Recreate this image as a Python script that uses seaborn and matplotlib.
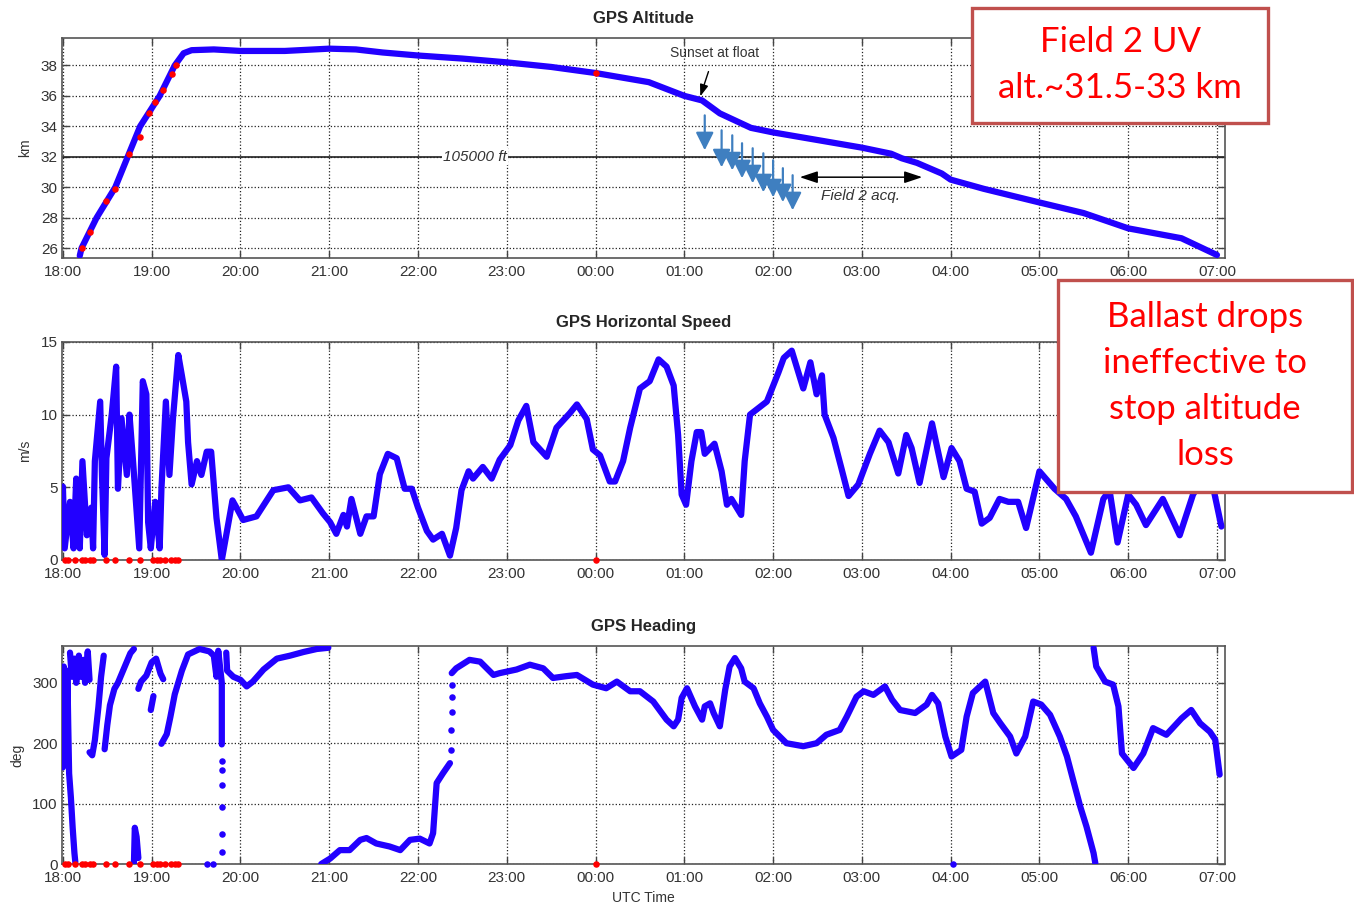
import matplotlib
matplotlib.use('Agg')
import matplotlib.pyplot as plt
from matplotlib.patches import Rectangle
import numpy as np
import pandas as pd
import seaborn as sns

# time axis: hours after 18:00 UTC
time_labels = ['18:00', '19:00', '20:00', '21:00', '22:00', '23:00', '00:00',
               '01:00', '02:00', '03:00', '04:00', '05:00', '06:00', '07:00']

# GPS altitude (hours, km)
altitude = [(0.19, 25.5), (0.21, 26.0), (0.38, 28.0), (0.59, 30.0), (0.73, 32.0),
            (0.87, 34.0), (1.09, 36.0), (1.26, 38.0), (1.36, 38.8), (1.45, 39.0),
            (1.7, 39.05), (2.0, 38.95), (2.5, 38.95), (3.0, 39.1), (3.3, 39.05),
            (3.6, 38.85), (4.0, 38.65), (4.5, 38.45), (5.0, 38.2), (5.5, 37.9),
            (6.0, 37.5), (6.6, 36.9), (7.0, 36.0), (7.2, 35.7), (7.4, 34.85),
            (7.75, 33.9), (8.0, 33.6), (8.5, 33.1), (9.0, 32.6), (9.33, 32.2),
            (9.45, 31.9), (9.62, 31.6), (9.9, 30.9), (10.0, 30.5), (10.37, 29.9),
            (11.0, 29.0), (11.5, 28.3), (12.0, 27.3), (12.6, 26.65), (13.0, 25.55)]
altitude_dropouts = [(0.21, 26.0), (0.30, 27.05), (0.48, 29.1), (0.59, 29.9), (0.75, 32.2),
                     (0.87, 33.3), (0.97, 34.85), (1.04, 35.6), (1.13, 36.4), (1.23, 37.45),
                     (1.27, 38.0), (6.0, 37.5)]

# ballast drops (hours, arrow top km, arrow bottom km)
ballast_t = [7.23, 7.42, 7.54, 7.65, 7.77, 7.89, 8.00, 8.11, 8.22]
ballast_top = [34.72, 33.74, 33.41, 32.89, 32.56, 32.23, 31.77, 31.25, 30.79]
ballast_bottom = [32.43, 31.31, 31.11, 30.59, 30.26, 29.67, 29.34, 29.02, 28.49]

# GPS horizontal speed (hours, m/s)
speed = [(0.0, 5.05), (0.02, 0.8), (0.08, 4.0), (0.12, 0.8), (0.15, 5.6), (0.19, 0.8),
         (0.22, 6.8), (0.27, 1.7), (0.32, 3.6), (0.34, 0.8), (0.36, 6.8), (0.42, 10.9),
         (0.44, 5.85), (0.47, 0.35), (0.49, 7.0), (0.55, 10.0), (0.60, 13.3), (0.62, 4.9),
         (0.66, 9.75), (0.72, 5.85), (0.75, 10.0), (0.79, 6.8), (0.86, 0.8), (0.90, 12.3),
         (0.94, 11.4), (0.96, 2.6), (0.99, 0.8), (1.04, 4.0), (1.09, 0.8), (1.11, 4.9),
         (1.16, 10.9), (1.20, 5.85), (1.24, 9.75), (1.30, 14.1), (1.34, 12.7), (1.39, 10.9),
         (1.41, 8.1), (1.45, 5.2), (1.51, 6.8), (1.56, 5.85), (1.62, 7.45), (1.67, 7.45),
         (1.70, 5.2), (1.73, 2.9), (1.79, 0.0), (1.84, 1.7), (1.91, 4.1), (1.96, 3.55),
         (2.03, 2.75), (2.18, 3.0), (2.37, 4.8), (2.54, 5.0), (2.67, 4.1), (2.80, 4.3),
         (2.93, 3.2), (3.01, 2.6), (3.08, 1.8), (3.16, 3.1), (3.20, 2.3), (3.25, 4.2),
         (3.35, 1.8), (3.42, 3.0), (3.50, 3.0), (3.57, 5.9), (3.66, 7.3), (3.76, 7.0),
         (3.85, 4.9), (3.93, 4.9), (4.00, 3.6), (4.10, 2.0), (4.17, 1.4), (4.27, 1.8),
         (4.36, 0.3), (4.43, 2.2), (4.49, 4.8), (4.57, 6.1), (4.62, 5.6), (4.73, 6.4),
         (4.83, 5.6), (4.92, 6.9), (5.04, 7.9), (5.13, 9.6), (5.22, 10.6), (5.30, 8.1),
         (5.45, 7.1), (5.56, 9.1), (5.71, 10.1), (5.79, 10.7), (5.90, 9.7), (5.97, 7.6),
         (6.05, 7.2), (6.16, 5.4), (6.22, 5.4), (6.31, 6.8), (6.39, 9.1), (6.50, 11.8),
         (6.61, 12.3), (6.71, 13.8), (6.80, 13.3), (6.88, 12.0), (6.93, 8.6), (6.97, 4.5),
         (7.02, 3.8), (7.08, 6.8), (7.14, 8.8), (7.19, 8.8), (7.23, 7.3), (7.34, 8.0),
         (7.42, 6.1), (7.48, 3.8), (7.53, 4.2), (7.64, 3.1), (7.68, 6.8), (7.74, 10.0),
         (7.93, 10.9), (8.06, 12.9), (8.12, 13.9), (8.21, 14.4), (8.27, 13.2), (8.34, 11.8),
         (8.42, 13.6), (8.49, 11.4), (8.55, 12.7), (8.58, 10.0), (8.68, 8.4), (8.77, 6.3),
         (8.85, 4.4), (8.96, 5.2), (9.09, 7.3), (9.20, 8.9), (9.30, 8.1), (9.41, 5.95),
         (9.50, 8.6), (9.56, 7.7), (9.65, 5.3), (9.79, 9.4), (9.92, 5.7), (10.01, 7.7),
         (10.10, 6.8), (10.18, 4.9), (10.27, 4.7), (10.35, 2.5), (10.44, 2.9), (10.55, 4.2),
         (10.65, 4.0), (10.76, 4.0), (10.85, 2.2), (11.00, 6.1), (11.17, 4.9), (11.30, 4.2),
         (11.41, 3.0), (11.58, 0.5), (11.72, 4.2), (11.79, 4.8), (11.88, 1.2), (12.00, 4.5),
         (12.09, 3.8), (12.20, 2.4), (12.39, 4.2), (12.58, 1.7), (12.73, 4.5), (12.80, 5.2),
         (12.96, 4.9), (13.05, 2.3)]
dropout_t = [0.02, 0.06, 0.14, 0.21, 0.25, 0.30, 0.34, 0.49, 0.59, 0.75, 0.87, 1.02,
             1.06, 1.09, 1.15, 1.22, 1.26, 1.30, 6.0]

# GPS heading (hours, deg), one list per continuous piece
hdg_a = [(0.0, 160), (0.01, 327), (0.03, 300), (0.04, 200), (0.05, 320), (0.06, 230),
         (0.07, 150), (0.09, 110), (0.11, 60), (0.13, 18), (0.14, 3)]
hdg_b = [(0.08, 350), (0.10, 310), (0.13, 340), (0.15, 300), (0.18, 345), (0.20, 310),
         (0.23, 338), (0.25, 300), (0.28, 352), (0.30, 305)]
hdg_c = [(0.30, 185), (0.33, 180), (0.36, 205), (0.40, 260), (0.43, 310), (0.46, 345)]
hdg_d = [(0.47, 190), (0.50, 230), (0.53, 263), (0.58, 290), (0.62, 300), (0.68, 321),
         (0.72, 335), (0.76, 349), (0.80, 356)]
hdg_e = [(0.80, 0), (0.81, 60), (0.83, 45), (0.85, 10)]
hdg_f = [(0.85, 290), (0.88, 302), (0.94, 312), (1.00, 334), (1.05, 340), (1.10, 315),
         (1.13, 306)]
hdg_g = [(0.99, 255), (1.02, 278)]
hdg_h = [(1.11, 199), (1.17, 215), (1.21, 243), (1.26, 281), (1.34, 320), (1.41, 347),
         (1.54, 356), (1.65, 352), (1.70, 345), (1.73, 310), (1.75, 353), (1.79, 300),
         (1.79, 198)]
hdg_i = [(1.84, 350), (1.85, 320), (1.92, 310), (2.00, 305), (2.07, 294), (2.14, 302),
         (2.26, 322), (2.41, 340), (2.56, 345), (2.71, 351), (2.86, 356), (2.99, 358)]
hdg_j = [(2.91, 0), (3.01, 9), (3.12, 23), (3.23, 23), (3.35, 40), (3.42, 43),
         (3.53, 34), (3.68, 29), (3.80, 23), (3.91, 40), (4.02, 42), (4.13, 34),
         (4.17, 51), (4.21, 134), (4.28, 150), (4.36, 167)]
hdg_k = [(4.38, 316), (4.43, 324), (4.58, 338), (4.70, 335), (4.85, 313), (4.92, 316),
         (5.11, 322), (5.26, 330), (5.41, 324), (5.52, 308), (5.67, 311), (5.79, 313),
         (5.97, 297), (6.12, 291), (6.24, 302), (6.39, 286), (6.50, 286), (6.65, 269),
         (6.80, 239), (6.88, 228), (6.93, 239), (6.97, 275), (7.03, 291), (7.12, 261),
         (7.20, 239), (7.23, 261), (7.29, 266), (7.33, 250), (7.40, 228), (7.46, 288),
         (7.51, 327), (7.57, 341), (7.64, 324), (7.68, 302), (7.78, 291), (7.85, 266),
         (7.93, 244), (8.00, 222), (8.15, 200), (8.34, 195), (8.49, 200), (8.60, 214),
         (8.75, 222), (8.83, 244), (8.94, 277), (9.02, 286), (9.13, 280), (9.26, 294),
         (9.34, 272), (9.43, 255), (9.60, 250), (9.73, 264), (9.79, 280), (9.86, 266),
         (9.94, 211), (10.01, 178), (10.12, 189), (10.18, 244), (10.25, 283), (10.33, 294),
         (10.39, 302), (10.48, 250), (10.56, 233), (10.67, 211), (10.74, 183), (10.84, 211),
         (10.93, 269), (11.02, 264), (11.12, 247), (11.23, 211), (11.31, 178), (11.38, 139),
         (11.46, 95), (11.53, 62), (11.61, 18), (11.63, 1)]
hdg_l = [(11.61, 358), (11.64, 327), (11.74, 302), (11.83, 297), (11.89, 261), (11.93, 183),
         (12.06, 159), (12.17, 183), (12.28, 225), (12.43, 214), (12.60, 241), (12.71, 255),
         (12.81, 233), (12.92, 219), (12.98, 206), (13.03, 148)]
# isolated heading samples
hdg_dots = [(1.79, 170), (1.79, 155), (1.79, 130), (1.79, 95), (1.79, 50), (1.79, 20),
            (4.37, 189), (4.37, 222), (4.38, 252), (4.38, 277), (4.38, 297),
            (1.62, 0), (1.69, 0), (10.03, 0)]

BLUE = '#2200ff'


def to_frame(pieces, cols):
    rows = []
    for i, piece in enumerate(pieces):
        for t, v in piece:
            rows.append((t, v, i))
    return pd.DataFrame(rows, columns=cols + ['piece'])


def style_axes(ax, yticks, ylim, ylabel, title):
    ax.set_xlim(-0.01, 13.09)
    ax.set_xticks(range(len(time_labels)))
    ax.set_xticklabels(time_labels)
    ax.set_yticks(yticks)
    ax.set_ylim(ylim)
    ax.set_axisbelow(True)
    ax.grid(True, linestyle=':', color='#222222', linewidth=0.9)
    ax.tick_params(direction='in', top=True, right=True, length=5, width=1,
                   labelsize=11, labelcolor='#333333', color='#444444', pad=3)
    ax.tick_params(axis='x', pad=5)
    for s in ax.spines.values():
        s.set_color('#555555')
        s.set_linewidth(1.2)
    ax.set_ylabel(ylabel, fontsize=10, color='#333333', labelpad=6)
    ax.set_xlabel('')
    ax.set_title(title, fontweight='bold', fontsize=12, pad=11)


sns.set_theme(style='ticks')
plt.rcParams['font.family'] = ['Liberation Sans', 'DejaVu Sans']

fig = plt.figure(figsize=(13.54, 9.07), dpi=100)
ax1 = fig.add_axes([0.0458, 0.7155, 0.8589, 0.2426])
ax2 = fig.add_axes([0.0458, 0.3826, 0.8589, 0.2404])
ax3 = fig.add_axes([0.0458, 0.0474, 0.8589, 0.2404])

# --- altitude ---
alt_df = pd.DataFrame(altitude, columns=['t', 'km'])
ax1.axhline(32, color='#222222', linewidth=1.2, zorder=1)
sns.lineplot(data=alt_df, x='t', y='km', color=BLUE, linewidth=4.5, sort=False,
             estimator=None, ax=ax1, zorder=3)
alt_red = pd.DataFrame(altitude_dropouts, columns=['t', 'km'])
sns.scatterplot(data=alt_red, x='t', y='km', color='red', s=22, linewidth=0, ax=ax1, zorder=4)
style_axes(ax1, range(26, 39, 2), (25.35, 39.8), 'km', 'GPS Altitude')
ax1.text(4.64, 32, '105000 ft', fontsize=11, style='italic', color='#333333',
         ha='center', va='center', zorder=2,
         bbox=dict(facecolor='white', edgecolor='none', pad=1))
for t, top, bottom in zip(ballast_t, ballast_top, ballast_bottom):
    ax1.annotate('', xy=(t, bottom), xytext=(t, top), zorder=5,
                 arrowprops=dict(arrowstyle='-|>,head_length=0.9,head_width=0.45',
                                 color='#3f7fc0', lw=1.6, shrinkA=0, shrinkB=0))
ax1.annotate('', xy=(8.30, 30.66), xytext=(9.68, 30.66),
             arrowprops=dict(arrowstyle='<|-|>,head_length=0.9,head_width=0.3',
                             color='black', lw=1.1, shrinkA=0, shrinkB=0))
ax1.text(8.98, 29.41, 'Field 2 acq.', fontsize=11, style='italic', color='#333333',
         ha='center', va='center')
ax1.annotate('Sunset at float', xy=(7.18, 35.97), xytext=(7.34, 38.79),
             fontsize=10, color='#333333', ha='center', va='center',
             arrowprops=dict(arrowstyle='-|>,head_length=0.7,head_width=0.25',
                             color='black', lw=1.0, shrinkA=6, shrinkB=0))

# --- horizontal speed ---
spd_df = pd.DataFrame(speed, columns=['t', 'ms'])
sns.lineplot(data=spd_df, x='t', y='ms', color=BLUE, linewidth=4.5, sort=False,
             estimator=None, ax=ax2, zorder=3)
spd_red = pd.DataFrame({'t': dropout_t, 'ms': [0.0] * len(dropout_t)})
sns.scatterplot(data=spd_red, x='t', y='ms', color='red', s=22, linewidth=0, ax=ax2,
                zorder=4, clip_on=False)
style_axes(ax2, [0, 5, 10, 15], (0, 15), 'm/s', 'GPS Horizontal Speed')

# --- heading ---
hdg_df = to_frame([hdg_a, hdg_b, hdg_c, hdg_d, hdg_e, hdg_f, hdg_g, hdg_h,
                   hdg_i, hdg_j, hdg_k, hdg_l], ['t', 'deg'])
sns.lineplot(data=hdg_df, x='t', y='deg', units='piece', color=BLUE, linewidth=4.5,
             sort=False, estimator=None, ax=ax3, zorder=3)
dots_df = pd.DataFrame(hdg_dots, columns=['t', 'deg'])
sns.scatterplot(data=dots_df, x='t', y='deg', color=BLUE, s=22, linewidth=0, ax=ax3,
                zorder=3, clip_on=False)
hdg_red = pd.DataFrame({'t': dropout_t, 'deg': [0.0] * len(dropout_t)})
sns.scatterplot(data=hdg_red, x='t', y='deg', color='red', s=22, linewidth=0, ax=ax3,
                zorder=4, clip_on=False)
style_axes(ax3, [0, 100, 200, 300], (0, 361), 'deg', 'GPS Heading')
ax3.set_xlabel('UTC Time', fontsize=10, color='#333333', labelpad=4)

# --- callout boxes ---
for (x0, y0, w, h) in [(0.7179, 0.8644, 0.2186, 0.1268), (0.7814, 0.4576, 0.2171, 0.2337)]:
    fig.patches.append(Rectangle((x0, y0), w, h, transform=fig.transFigure,
                                 facecolor='white', edgecolor='#c0504d', linewidth=2.4,
                                 zorder=5))
fig.text(0.8272, 0.9283, 'Field 2 UV\nalt.~31.5-33 km', color='#ff0000', fontsize=25,
         family='Lato', ha='center', va='center', linespacing=1.55, zorder=6)
fig.text(0.8900, 0.5744, 'Ballast drops\nineffective to\nstop altitude\nloss',
         color='#ff0000', fontsize=25, family='Lato', ha='center', va='center',
         linespacing=1.55, zorder=6)

fig.savefig('out.png', dpi=100, facecolor='white')
